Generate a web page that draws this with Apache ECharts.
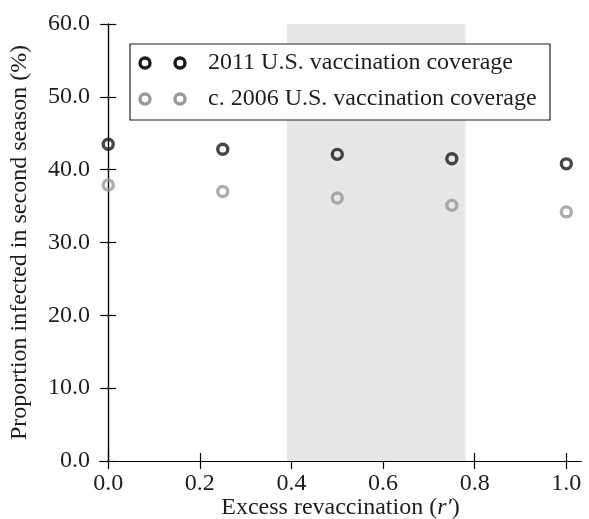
<!DOCTYPE html>
<html>
<head>
<meta charset="utf-8">
<script src="https://cdn.jsdelivr.net/npm/echarts@6/dist/echarts.min.js"></script>
<style>
  html, body { margin: 0; padding: 0; background: #fff; }
  #chart { width: 589px; height: 519px; }
</style>
</head>
<body>
<div id="chart"></div>
<script>
// excess revaccination r'
var xValues = [0.0, 0.25, 0.5, 0.75, 1.0]
// proportion infected in second season (%)
var coverage2011 = [43.5, 42.8, 42.1, 41.5, 40.8]
var coverage2006 = [37.9, 37.0, 36.1, 35.1, 34.2]
var seriesNames = ['2011 U.S. vaccination coverage', 'c. 2006 U.S. vaccination coverage']
var xTicks = [0, 0.2, 0.4, 0.6, 0.8, 1.0]
var shadedRange = [0.39, 0.78]

var font = 'Liberation Serif'
var textColor = '#1e1e1e'
var black = '#1a1a1a'
var grey = '#999999'

function pairs(ys) {
  return xValues.map(function(x, i) { return [x, ys[i]] })
}

var chart = echarts.init(document.getElementById('chart'))

var axisLine = { show: true, lineStyle: { color: '#000', width: 1.2 } }
var inTick = { show: true, inside: true, length: 8, lineStyle: { color: '#000', width: 1.2 } }

var option = {
  animation: false,
  grid: { left: 100, right: 8, top: 24, bottom: 58, outerBoundsMode: 'none', containLabel: false },
  xAxis: [
    {
      type: 'value', min: -0.018, max: 1.032,
      name: 'Excess revaccination ({i|r\u2032})',
      nameLocation: 'middle', nameGap: 35, nameMoveOverlap: false,
      nameTextStyle: { fontFamily: font, fontSize: 24, color: textColor, rich: { i: { fontFamily: font, fontSize: 24, fontStyle: 'italic', color: textColor } } },
      axisLine: axisLine,
      axisTick: Object.assign({ customValues: xTicks }, inTick),
      axisLabel: { customValues: xTicks, fontFamily: font, fontSize: 24, color: textColor, margin: 11,
        formatter: function(v) { return v.toFixed(1) } },
      splitLine: { show: false }
    },
    {
      type: 'value', position: 'top', min: -0.018, max: 1.032,
      axisLine: axisLine,
      axisTick: Object.assign({ customValues: xTicks }, inTick),
      axisLabel: { show: false },
      splitLine: { show: false }
    }
  ],
  yAxis: [
    {
      type: 'value', min: 0, max: 60, interval: 10,
      name: 'Proportion infected in second season (%)',
      nameLocation: 'middle', nameGap: 68, nameMoveOverlap: false,
      nameTextStyle: { fontFamily: font, fontSize: 24, color: textColor },
      axisLine: axisLine,
      axisTick: inTick,
      axisLabel: { fontFamily: font, fontSize: 24, color: textColor, margin: 10,
        formatter: function(v) { return v.toFixed(1) } },
      splitLine: { show: false }
    },
    {
      type: 'value', position: 'right', min: 0, max: 60, interval: 10,
      axisLine: axisLine,
      axisTick: inTick,
      axisLabel: { show: false },
      splitLine: { show: false }
    }
  ],
  series: [
    {
      name: seriesNames[0],
      type: 'scatter',
      z: 3,
      symbol: 'circle', symbolSize: 10,
      itemStyle: { color: 'rgba(0,0,0,0)', borderColor: black, borderWidth: 3.4 },
      data: pairs(coverage2011),
      markArea: {
        silent: true,
        itemStyle: { color: '#e6e7e9' },
        data: [[{ xAxis: shadedRange[0] }, { xAxis: shadedRange[1] }]]
      }
    },
    {
      name: seriesNames[1],
      type: 'scatter',
      z: 3,
      symbol: 'circle', symbolSize: 10,
      itemStyle: { color: 'rgba(0,0,0,0)', borderColor: grey, borderWidth: 3.4 },
      data: pairs(coverage2006)
    }
  ],
  // matplotlib style legend with two markers per entry
  graphic: [
    { type: 'rect', z: 10, shape: { x: 130, y: 44, width: 420, height: 76 },
      style: { fill: '#fff', stroke: '#222', lineWidth: 1.2 } },
    { type: 'circle', z: 11, shape: { cx: 145, cy: 63, r: 5 }, style: { fill: 'none', stroke: black, lineWidth: 3.4 } },
    { type: 'circle', z: 11, shape: { cx: 180, cy: 63, r: 5 }, style: { fill: 'none', stroke: black, lineWidth: 3.4 } },
    { type: 'circle', z: 11, shape: { cx: 145, cy: 99, r: 5 }, style: { fill: 'none', stroke: grey, lineWidth: 3.4 } },
    { type: 'circle', z: 11, shape: { cx: 180, cy: 99, r: 5 }, style: { fill: 'none', stroke: grey, lineWidth: 3.4 } },
    { type: 'text', z: 11, x: 208, y: 63,
      style: { text: seriesNames[0], font: '24px "Liberation Serif"', fill: textColor, verticalAlign: 'middle' } },
    { type: 'text', z: 11, x: 208, y: 99,
      style: { text: seriesNames[1], font: '24px "Liberation Serif"', fill: textColor, verticalAlign: 'middle' } }
  ]
}

chart.setOption(option)
</script>
</body>
</html>
